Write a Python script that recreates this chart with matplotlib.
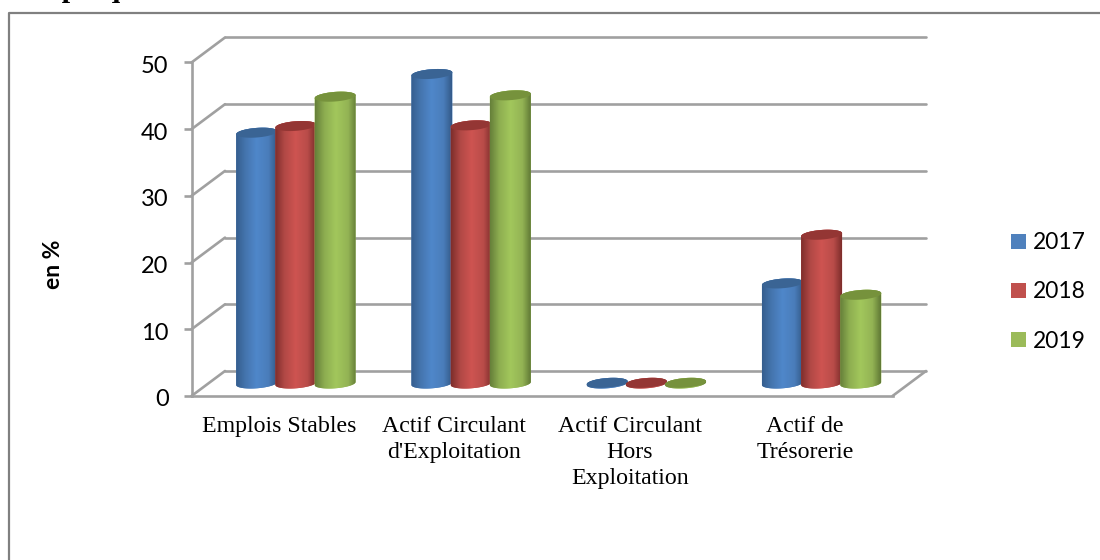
import numpy as np
import matplotlib
matplotlib.use("Agg")
import matplotlib.pyplot as plt
from matplotlib.colors import LinearSegmentedColormap
from matplotlib.patches import Polygon, Patch
from matplotlib.lines import Line2D
from matplotlib.transforms import ScaledTranslation

# ---- data ----
categories = ["Emplois Stables", "Actif Circulant\nd'Exploitation",
              "Actif Circulant\nHors\nExploitation", "Actif de\nTrésorerie"]
years = ["2017", "2018", "2019"]
v2017 = [37.6, 46.4, 0.1, 15.0]
v2018 = [38.6, 38.7, 0.1, 22.3]
v2019 = [43.0, 43.2, 0.1, 13.3]
y_ticks = [0, 10, 20, 30, 40, 50]
series = [v2017, v2018, v2019]

# ---- styles ----
W, H = 1100, 560
FLAT = ["#4F81BD", "#C0504D", "#9BBB59"]
CAPS = ["#3A6494", "#943634", "#76923C"]
GRADS = [
    ["#355E8E", "#4474AD", "#4F87CA", "#4A7DBA", "#345B8A"],
    ["#7F2E2C", "#B04845", "#CE5451", "#B94C49", "#7F2E2C"],
    ["#66803A", "#8DAD50", "#A2C75C", "#93B354", "#617A36"],
]
GRID = "#A0A0A0"
SANS = ["Lato", "DejaVu Sans"]
SERIF = ["Liberation Serif", "DejaVu Serif"]

fig = plt.figure(figsize=(W / 100, H / 100), dpi=100, facecolor="white")
ax = fig.add_axes([191.5 / W, (H - 396) / H, 701 / W, 333.5 / H])
ax.set_xlim(0, len(categories))
ax.set_ylim(0, 50)
ax.patch.set_alpha(0)

# px -> data helpers
px_x = len(categories) / 701
px_y = 50 / 333.5
dx, dy = 33.5 * px_x, 25 * px_y

# ---- 3D frame ----
line_kw = dict(color=GRID, lw=1.9, clip_on=False, zorder=1, solid_capstyle="round")
for t in y_ticks:
    ax.plot([dx, len(categories) + dx], [t + dy, t + dy], **line_kw)
    ax.plot([0, dx], [t, t + dy], **line_kw)
ax.plot([len(categories), len(categories) + dx], [0, dy], **line_kw)

for s in ("top", "right"):
    ax.spines[s].set_visible(False)
for s in ("left", "bottom"):
    ax.spines[s].set_color(GRID)
    ax.spines[s].set_linewidth(1.9)
    ax.spines[s].set_zorder(1)
ax.set_yticks(y_ticks)
ax.set_xticks(np.arange(len(categories)) + 0.5)
ax.set_xticklabels(categories, family=SERIF, fontsize=17.2, color="black",
                   linespacing=1.32, va="top")
ax.tick_params(axis="x", length=0, pad=14.5)
ax.tick_params(axis="y", length=5.5, width=1.9, color=GRID, pad=11, labelsize=17)
shift = ScaledTranslation(0, -2 / 100, fig.dpi_scale_trans)
for lab in ax.get_yticklabels():
    lab.set_family(SANS)
    lab.set_transform(lab.get_transform() + shift)

# ---- cylinders ----
def outline(cx, cy, hw, hh, tilt, t0, t1, n=40):
    t = np.linspace(t0, t1, n)
    return np.c_[cx + hw * np.cos(t), cy + hh * np.sin(t) + tilt * np.cos(t)]

hw = 20.5 * px_x
hh = 4.8 * px_y
tilt = 1.5 * px_y
step = 39.2 * px_x
base = dy / 2
order = 3
for c in range(len(categories)):
    for k in range(len(years)):
        cx = c + 0.5 + dx / 2 + (k - 1) * step
        top = base + series[k][c]
        lower = outline(cx, base, hw, hh, tilt, np.pi, 2 * np.pi)
        upper = outline(cx, top, hw, hh, tilt, 0, np.pi)
        poly = Polygon(np.vstack([lower, upper]), closed=True, transform=ax.transData,
                       fc=FLAT[k], ec="none", clip_on=False, zorder=order)
        ax.add_patch(poly)
        cmap = LinearSegmentedColormap.from_list("g", list(zip([0, .22, .5, .8, 1], GRADS[k])))
        im = ax.imshow(np.linspace(0, 1, 64)[None, :], cmap=cmap, aspect="auto",
                       extent=(cx - hw, cx + hw, base - hh - tilt, top + hh + tilt),
                       zorder=order + 0.1, interpolation="bilinear")
        im.set_clip_path(poly)
        cap = Polygon(outline(cx, top, hw, hh, tilt, 0, 2 * np.pi), closed=True,
                      fc=CAPS[k], ec="none", clip_on=False, zorder=order + 0.2)
        ax.add_patch(cap)
        order += 1
ax.set_xlim(0, len(categories))
ax.set_ylim(0, 50)

# ---- legend ----
handles = [Patch(fc=FLAT[k], ec="none") for k in range(len(years))]
leg = fig.legend(handles, years, loc="center left", bbox_to_anchor=(1011 / W, (H - 292) / H),
                 frameon=False, prop={"family": SANS, "size": 16.4},
                 handlelength=0.66, handleheight=0.66, handletextpad=0.3,
                 labelspacing=1.234, borderpad=0, borderaxespad=0)

# ---- outer frame, clipped heading, axis title ----
frame = Line2D([1100 / W, 9 / W, 9 / W], [(H - 13) / H, (H - 13) / H, 0],
               transform=fig.transFigure, color="#808080", lw=1.6)
fig.add_artist(frame)
fig.text(10 / W, (H + 3) / H, "Graphique", family=SERIF, weight="bold", fontsize=21.6,
         ha="left", va="baseline", color="black")
fig.text(53 / W, (H - 264) / H, "en %", family=SANS, weight="bold", fontsize=16.5,
         rotation=90, ha="center", va="center", color="black")

fig.savefig("out.png", dpi=100, facecolor="white")
